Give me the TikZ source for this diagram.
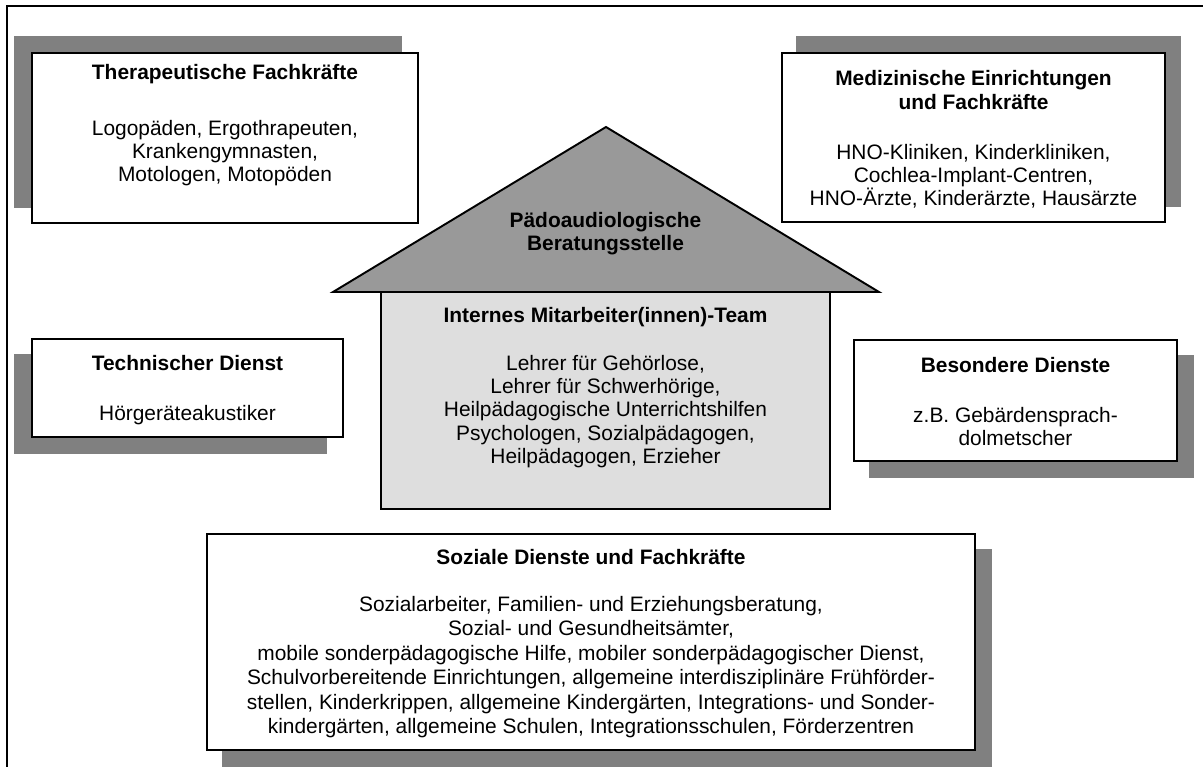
\documentclass[tikz,border=0pt]{standalone}
\usepackage{fontspec}
\setmainfont{Liberation Sans}
\usetikzlibrary{backgrounds}

\definecolor{shadowgray}{gray}{0.5}
\definecolor{roofgray}{gray}{0.6}
\definecolor{housegray}{gray}{0.87}

\tikzset{
  panel/.style={draw=black, line width=1.1pt, fill=white, inner sep=0pt},
  boxsize/.style 2 args={minimum width=#1*0.02cm, minimum height=#2*0.02cm},
  headtext/.style={font=\fontsize{11.9}{13.2}\selectfont\bfseries, align=center, inner sep=0pt},
  bodytext/.style={font=\fontsize{11.9}{13.2}\selectfont, align=center, inner sep=0pt},
  dropbox/.style={fill=shadowgray}
}

\begin{document}
\begin{tikzpicture}[x=0.02cm, y=-0.02cm]
	\useasboundingbox (0,0) rectangle (1203,767);

	% frame
	\draw[line width=0.6pt] (7,767) -- (7,6) -- (1203,6);

	% house
	\coordinate (eaveL) at (333,292);
	\coordinate (ridge) at (606,127);
	\coordinate (eaveR) at (879,292);
	\draw[line width=1.1pt, fill=roofgray] (eaveL) -- (ridge) -- (eaveR) -- cycle;

	\begin{scope}[every node/.style={panel}]
		\node[boxsize={386}{170}] (thera) at (225,138) {};
		\node[boxsize={383}{169}] (medi) at (973.5,137.5) {};
		\node[boxsize={311}{98}] (tech) at (187.5,388) {};
		\node[boxsize={323}{121}] (besond) at (1015.5,400.5) {};
		\node[boxsize={449}{217}, fill=housegray] (team) at (605.5,400.5) {};
		\node[boxsize={768}{216}] (sozial) at (591,642) {};
	\end{scope}

	% shadows
	\begin{scope}[on background layer]
		\fill[dropbox] ([shift={(-17,-16)}]thera.south west) rectangle ([shift={(-17,-16)}]thera.north east);
		\fill[dropbox] ([shift={(15,-16)}]medi.south west) rectangle ([shift={(15,-16)}]medi.north east);
		\fill[dropbox] ([shift={(-17,16)}]tech.south west) rectangle ([shift={(-17,16)}]tech.north east);
		\fill[dropbox] ([shift={(16,16)}]besond.south west) rectangle ([shift={(16,16)}]besond.north east);
		\fill[dropbox] ([shift={(16,16)}]sozial.south west) rectangle ([shift={(16,16)}]sozial.north east);
	\end{scope}

	% labels
	\node[headtext] (thera-h) at (225,74) {Therapeutische Fachkräfte};
	\node[bodytext] (thera-b) at (225,153) {Logopäden, Ergothrapeuten,\\Krankengymnasten,\\Motologen, Motopöden};

	\node[headtext] (medi-h) at (973.5,90) {Medizinische Einrichtungen\\und Fachkräfte};
	\node[bodytext] (medi-b) at (973.5,176.5) {HNO-Kliniken, Kinderkliniken,\\Cochlea-Implant-Centren,\\HNO-Ärzte, Kinderärzte, Hausärzte};

	\node[headtext] (tech-h) at (187.5,363) {Technischer Dienst};
	\node[bodytext] (tech-b) at (187.5,415) {Hörgeräteakustiker};

	\node[headtext] (besond-h) at (1015.5,365) {Besondere Dienste};
	\node[bodytext] (besond-b) at (1015.5,426.5) {z.B. Gebärdensprach-\\dolmetscher};

	\node[headtext] (roof-h) at (605.5,234) {Pädoaudiologische\\Beratungsstelle};

	\node[headtext] (team-h) at (605.5,317) {Internes Mitarbeiter(innen)-Team};
	\node[bodytext] (team-b) at (605.5,411.5) {Lehrer für Gehörlose,\\Lehrer für Schwerhörige,\\Heilpädagogische Unterrichtshilfen\\Psychologen, Sozialpädagogen,\\Heilpädagogen, Erzieher};

	\node[headtext] (sozial-h) at (591,557) {Soziale Dienste und Fachkräfte};
	\node[bodytext, font=\fontsize{11.9}{13.9}\selectfont] (sozial-b) at (591,667) {Sozialarbeiter, Familien- und Erziehungsberatung,\\Sozial- und Gesundheitsämter,\\mobile sonderpädagogische Hilfe, mobiler sonderpädagogischer Dienst,\\Schulvorbereitende Einrichtungen, allgemeine interdisziplinäre Frühförder-\\stellen, Kinderkrippen, allgemeine Kindergärten, Integrations- und Sonder-\\kindergärten, allgemeine Schulen, Integrationsschulen, Förderzentren};
\end{tikzpicture}
\end{document}
